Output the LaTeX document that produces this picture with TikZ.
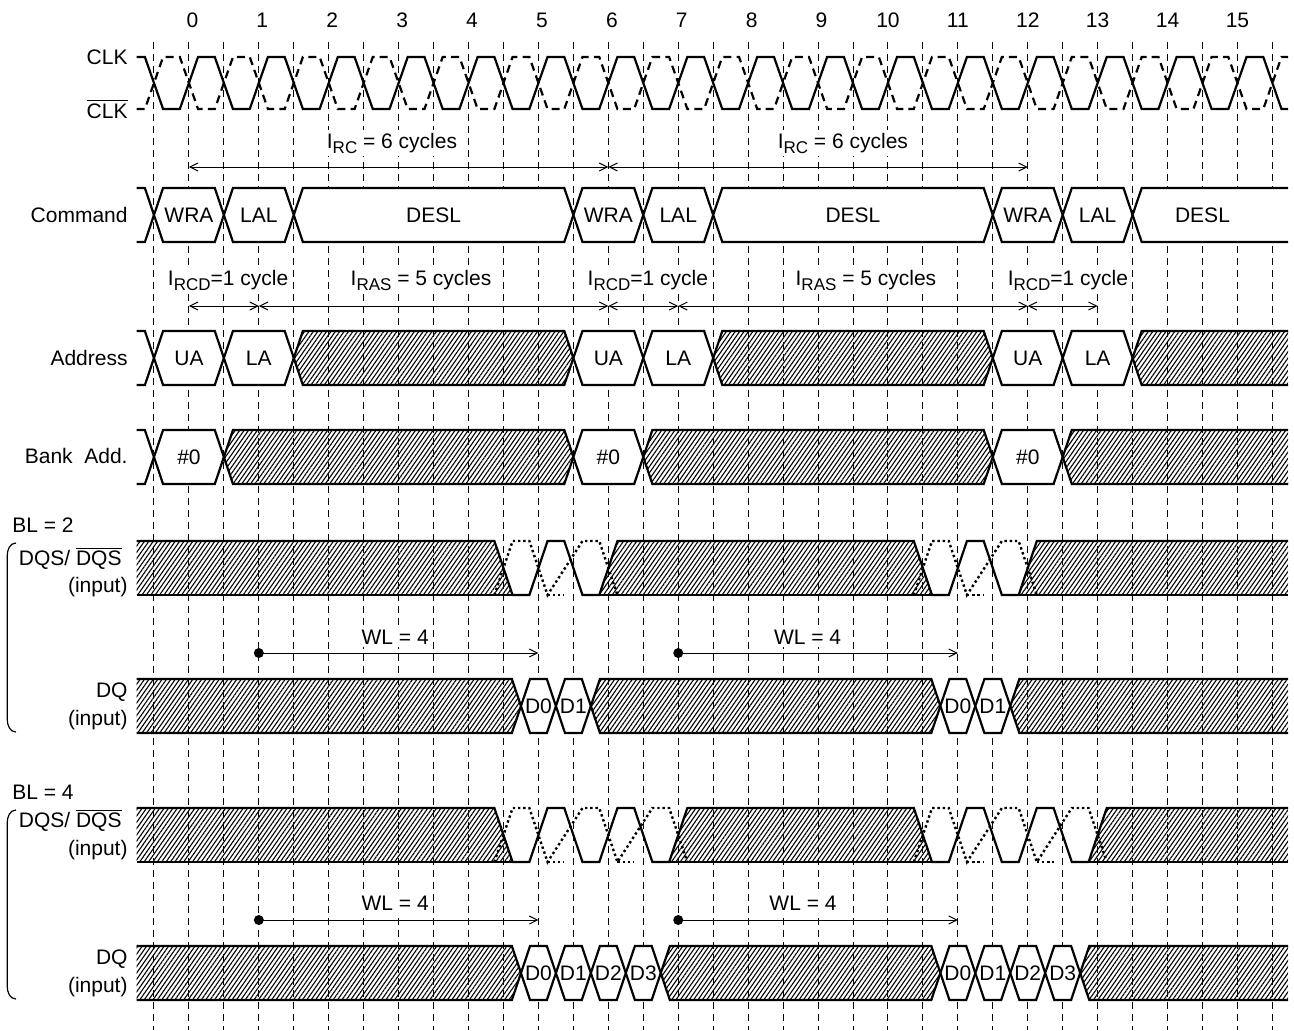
\documentclass[tikz,border=0pt]{standalone}
\usepackage{fontspec}
\setmainfont{Liberation Sans}
\usetikzlibrary{arrows.meta,patterns.meta}

\newcommand{\lowtext}[1]{\raisebox{-0.45ex}{\fontsize{8.5}{10}\selectfont #1}}
% bus cell with its text
\newcommand{\buscell}[5]{%
  \draw[wave,fill=white] (#1,#3+27) -- (#1+0.26,#3) -- (#2-0.26,#3) -- (#2,#3+27)
    -- (#2-0.26,#3+54) -- (#1+0.26,#3+54) -- cycle;
  \node[lbl] (#4) at ({(#1+#2)/2},#3+27) {#5};}
% hatched (invalid) cell
\newcommand{\hatchcell}[3]{%
  \draw[wave,hatch] (#1,#3+27) -- (#1+0.26,#3) -- (#2-0.26,#3) -- (#2,#3+27)
    -- (#2-0.26,#3+54) -- (#1+0.26,#3+54) -- cycle;}
% cell running off the right edge
\newcommand{\tailcell}[3]{%
  \fill[#3] (#1,#2+27) -- (#1+0.26,#2) -- (32.45,#2) -- (32.45,#2+54) -- (#1+0.26,#2+54) -- cycle;
  \draw[wave] (32.45,#2) -- (#1+0.26,#2) -- (#1,#2+27) -- (#1+0.26,#2+54) -- (32.45,#2+54);}
% stub coming in from the left edge
\newcommand{\headstub}[1]{%
  \draw[wave] (-0.5,#1) -- (-0.26,#1) -- (0,#1+27) -- (-0.26,#1+54) -- (-0.5,#1+54);}
% hatched data line up to the first transition
\newcommand{\headhatch}[2]{%
  \fill[hatch] (-0.5,#2) -- (#1-0.26,#2) -- (#1,#2+27) -- (#1-0.26,#2+54) -- (-0.5,#2+54) -- cycle;
  \draw[wave] (-0.5,#2) -- (#1-0.26,#2) -- (#1,#2+27) -- (#1-0.26,#2+54) -- (-0.5,#2+54);}
% strobe row: #1 top; #2 falling edges, #3 first, #4 last of burst one; #5-#7 the same for burst two
\newcommand{\strobe}[7]{%
  \fill[hatch] (-0.5,#1) -- (#3-0.26,#1) -- (#3+0.26,#1+54) -- (-0.5,#1+54) -- cycle;
  \fill[hatch] (#4-0.26,#1+54) -- (#4+0.26,#1) -- (#6-0.26,#1) -- (#6+0.26,#1+54) -- cycle;
  \fill[hatch] (#7-0.26,#1+54) -- (#7+0.26,#1) -- (32.45,#1) -- (32.45,#1+54) -- cycle;
  \draw[dots] (#3-0.26,#1+54) foreach \e in {#2} { -- (\e+0.26,#1) -- (\e+0.74,#1)
    -- (\e+1.26,#1+54) };
  \draw[dots] (#6-0.26,#1+54) foreach \e in {#5} { -- (\e+0.26,#1) -- (\e+0.74,#1)
    -- (\e+1.26,#1+54) };
  \draw[dots] foreach \e in {#2,#5} { (\e+1.26,#1+54) -- (\e+1.74,#1+54) };
  \draw[wave] (-0.5,#1) -- (#3-0.26,#1) foreach \e in {#2} { -- (\e+0.26,#1+54) -- (\e+0.74,#1+54)
    -- (\e+1.26,#1) -- (\e+1.74,#1) } -- (#6-0.26,#1) foreach \e in {#5} { -- (\e+0.26,#1+54)
    -- (\e+0.74,#1+54) -- (\e+1.26,#1) -- (\e+1.74,#1) } -- (32.45,#1);
  \draw[wave] (-0.5,#1+54) -- (#3+0.26,#1+54);
  \draw[wave] (#4-0.26,#1+54) -- (#6+0.26,#1+54);
  \draw[wave] (#7-0.26,#1+54) -- (32.45,#1+54);}

\tikzset{
  wave/.style={line width=1.1pt, line join=miter},
  clkbar/.style={dash pattern=on 4pt off 2.6pt},
  dots/.style={line width=1.2pt, dash pattern=on 1.2pt off 1.4pt},
  grid/.style={line width=0.5pt, dash pattern=on 3.5pt off 2.5pt},
  hatch/.style={pattern={Lines[angle=55,distance=1.8pt,line width=0.55pt]}, pattern color=black},
  lbl/.style={font=\fontsize{10.5}{12}\selectfont, inner sep=0pt},
  note/.style={lbl, fill=white, inner sep=1.5pt},
  span/.style={line width=0.5pt, {Straight Barb[length=4pt,width=4pt]}-{Straight Barb[length=4pt,width=4pt]}},
  lat/.style={line width=0.5pt, -{Straight Barb[length=4pt,width=4pt]}},
  brace/.style={line width=0.6pt},
}

\begin{document}
\begin{tikzpicture}[x=17.475pt, y=-0.5pt]
  \useasboundingbox (-4.406,0) rectangle (32.618,1030);

  % grid
  \foreach \h in {0,...,32}
    \draw[grid] (\h,42) -- (\h,1030);
  \foreach \k in {0,...,9}
    \node[lbl] (n\k) at (2*\k+1.1,20) {\k};
  \foreach \k in {10,...,15}
    \node[lbl] (n\k) at (2*\k+1,20) {\k};

  % clock
  \draw[wave] (-0.5,57) -- (-0.26,57) foreach \e in {0,2,...,30} { -- (\e+0.26,109) -- (\e+0.74,109)
    -- (\e+1.26,57) -- (\e+1.74,57) } -- (32.26,109) -- (32.45,109);
  \draw[wave,clkbar] (-0.5,109) -- (-0.26,109) foreach \e in {0,2,...,30} { -- (\e+0.26,57) -- (\e+0.74,57)
    -- (\e+1.26,109) -- (\e+1.74,109) } -- (32.26,57) -- (32.45,57);
  \node[lbl,anchor=east] (clk) at (-0.744,57) {CLK};
  \node[lbl,anchor=east] (clkb) at (-0.744,109) {$\overline{\mbox{CLK}}$};

  % command
  \headstub{188}
  \buscell{0}{2}{188}{c1}{WRA}
  \buscell{2}{4}{188}{c2}{LAL}
  \buscell{4}{12}{188}{c3}{DESL}
  \buscell{12}{14}{188}{c4}{WRA}
  \buscell{14}{16}{188}{c5}{LAL}
  \buscell{16}{24}{188}{c6}{DESL}
  \buscell{24}{26}{188}{c7}{WRA}
  \buscell{26}{28}{188}{c8}{LAL}
  \tailcell{28}{188}{white}
  \node[lbl] (c9) at (30,215) {DESL};
  \node[lbl,anchor=east] (cmd) at (-0.744,215) {Command};

  % address
  \headstub{331}
  \buscell{0}{2}{331}{a1}{UA}
  \buscell{2}{4}{331}{a2}{LA}
  \hatchcell{4}{12}{331}
  \buscell{12}{14}{331}{a3}{UA}
  \buscell{14}{16}{331}{a4}{LA}
  \hatchcell{16}{24}{331}
  \buscell{24}{26}{331}{a5}{UA}
  \buscell{26}{28}{331}{a6}{LA}
  \tailcell{28}{331}{hatch}
  \node[lbl,anchor=east] (addr) at (-0.744,358) {Address};

  % bank address
  \headstub{430}
  \buscell{0}{2}{430}{b1}{\#0}
  \hatchcell{2}{12}{430}
  \buscell{12}{14}{430}{b2}{\#0}
  \hatchcell{14}{24}{430}
  \buscell{24}{26}{430}{b3}{\#0}
  \tailcell{26}{430}{hatch}
  \node[lbl,anchor=east] (bank) at (-0.744,456) {Bank\ \ Add.};

  % BL = 2
  \strobe{541}{10,12}{10}{13}{22,24}{22}{25}
  \headhatch{10.5}{679}
  \buscell{10.5}{11.5}{679}{p1}{D0}
  \buscell{11.5}{12.5}{679}{p2}{D1}
  \hatchcell{12.5}{22.5}{679}
  \buscell{22.5}{23.5}{679}{p3}{D0}
  \buscell{23.5}{24.5}{679}{p4}{D1}
  \tailcell{24.5}{679}{hatch}

  % BL = 4
  \strobe{808}{10,12,14}{10}{15}{22,24,26}{22}{27}
  \headhatch{10.5}{946}
  \buscell{10.5}{11.5}{946}{q1}{D0}
  \buscell{11.5}{12.5}{946}{q2}{D1}
  \buscell{12.5}{13.5}{946}{q3}{D2}
  \buscell{13.5}{14.5}{946}{q4}{D3}
  \hatchcell{14.5}{22.5}{946}
  \buscell{22.5}{23.5}{946}{q5}{D0}
  \buscell{23.5}{24.5}{946}{q6}{D1}
  \buscell{24.5}{25.5}{946}{q7}{D2}
  \buscell{25.5}{26.5}{946}{q8}{D3}
  \tailcell{26.5}{946}{hatch}

  \node[lbl,anchor=west] (bl2) at (-4.063,525) {BL = 2};
  \node[lbl,anchor=east] (dqs2) at (-0.916,558) {DQS/ $\overline{\mbox{DQS}}$};
  \node[lbl,anchor=east] (dqs2in) at (-0.744,587) {(input)};
  \node[lbl,anchor=east] (dq2) at (-0.744,692) {DQ};
  \node[lbl,anchor=east] (dq2in) at (-0.744,720) {(input)};
  \draw[brace] (-3.95,543) to[out=180,in=90] (-4.2,556) -- (-4.2,719) to[out=-90,in=180] (-3.95,732);

  \node[lbl,anchor=west] (bl4) at (-4.063,792) {BL = 4};
  \node[lbl,anchor=east] (dqs4) at (-0.916,820) {DQS/ $\overline{\mbox{DQS}}$};
  \node[lbl,anchor=east] (dqs4in) at (-0.744,850) {(input)};
  \node[lbl,anchor=east] (dq4) at (-0.744,959) {DQ};
  \node[lbl,anchor=east] (dq4in) at (-0.744,987) {(input)};
  \draw[brace] (-3.95,810) to[out=180,in=90] (-4.2,823) -- (-4.2,986) to[out=-90,in=180] (-3.95,999);

  % timing arrows
  \foreach \h in {1,13,25}
    \coordinate (rc\h) at (\h,167);
  \draw[span] (rc1) -- (rc13);
  \draw[span] (rc13) -- (rc25);
  \node[note] (trc1) at (6.81,143) {I\lowtext{RC} = 6 cycles};
  \node[note] (trc2) at (19.71,143) {I\lowtext{RC} = 6 cycles};

  \foreach \h in {1,3,13,15,25,27}
    \coordinate (cd\h) at (\h,306);
  \draw[span] (cd1) -- (cd3);
  \draw[span] (cd3) -- (cd13);
  \draw[span] (cd13) -- (cd15);
  \draw[span] (cd15) -- (cd25);
  \draw[span] (cd25) -- (cd27);
  \node[note] (trcd1) at (2.12,280) {I\lowtext{RCD}=1 cycle};
  \node[note] (trcd2) at (14.13,280) {I\lowtext{RCD}=1 cycle};
  \node[note] (trcd3) at (26.15,280) {I\lowtext{RCD}=1 cycle};
  \node[note] (tras1) at (7.64,280) {I\lowtext{RAS} = 5 cycles};
  \node[note] (tras2) at (20.37,280) {I\lowtext{RAS} = 5 cycles};

  \foreach \h in {3,11,15,23} {
    \coordinate (wa\h) at (\h,653);
    \coordinate (wb\h) at (\h,920);
  }
  \draw[lat] (wa3) -- (wa11);
  \draw[lat] (wa15) -- (wa23);
  \draw[lat] (wb3) -- (wb11);
  \draw[lat] (wb15) -- (wb23);
  \foreach \p in {wa3,wa15,wb3,wb15}
    \fill (\p) circle[radius=2.5pt];
  \node[note] (wl1) at (6.9,637) {WL = 4};
  \node[note] (wl2) at (18.7,637) {WL = 4};
  \node[note] (wl3) at (6.9,903) {WL = 4};
  \node[note] (wl4) at (18.57,903) {WL = 4};
\end{tikzpicture}
\end{document}
